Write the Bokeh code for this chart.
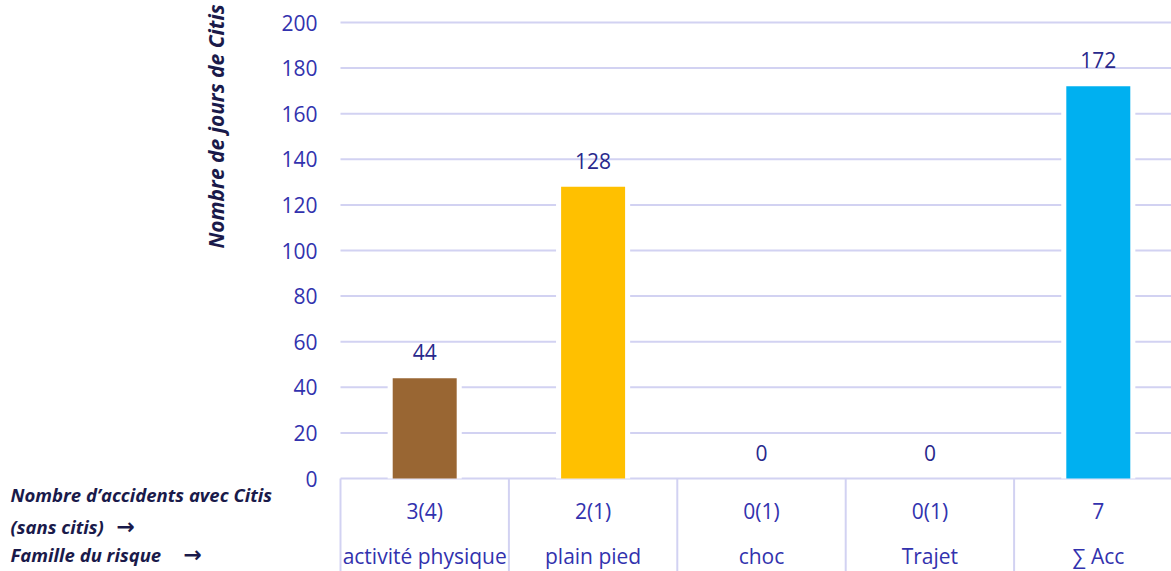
from bokeh.plotting import figure
from bokeh.models import Range1d, ColumnDataSource
from bokeh.core.properties import value
from bokeh.embed import file_html
from bokeh.resources import INLINE
import math

categories = ["activité physique", "plain pied", "choc", "Trajet", "∑ Acc"]
accidents = ["3(4)", "2(1)", "0(1)", "0(1)", "7"]
days = [44, 128, 0, 0, 172]
colors = ["#996633", "#FFC000", "#FFC000", "#FFC000", "#00B0F0"]
y_ticks = [0, 20, 40, 60, 80, 100, 120, 140, 160, 180, 200]
y_title = "Nombre de jours de Citis"
row_labels = ["Nombre d\u2019accidents avec Citis", "(sans citis)", "Famille du risque"]
row_arrows = ["\u2192", "\u2192"]

FONT = "Open Sans"
TICK_COLOR = "#3232AE"
VAL_COLOR = "#28288C"
DARK = "#1A1A4A"
GRID = "#D2D2F2"
FS = "21px"

W, H = 1171, 571
left = 340          # px of category origin
cat_w = 168.4       # px per category
px_per = 2.28       # px per unit
y0 = 478            # px of value 0

def dx(px):
    return (px - left) / cat_w

def dy(py):
    return (y0 - py) / px_per

xs = [i + 0.5 for i in range(len(categories))]
xend = dx(W)

p = figure(width=W, height=H, output_backend="svg", toolbar_location=None,
           x_range=Range1d(dx(0), xend), y_range=Range1d(dy(H), dy(0)),
           x_axis_location=None, y_axis_location=None,
           min_border_left=0, min_border_right=0, min_border_top=0, min_border_bottom=0)
p.outline_line_color = None
p.grid.visible = False

# gridlines
p.segment(x0=[0] * len(y_ticks), y0=y_ticks, x1=[xend] * len(y_ticks), y1=y_ticks,
          line_color=GRID, line_width=2)
# tick labels
p.text(x=[dx(317)] * len(y_ticks), y=y_ticks, text=[str(t) for t in y_ticks],
       text_align="right", text_baseline="middle", text_font=value(FONT),
       text_font_size=FS, text_color=TICK_COLOR)

src = ColumnDataSource(dict(x=xs, top=days, color=colors,
                            lab=[str(d) for d in days], acc=accidents, cat=categories))
# white halo behind bars (gap in gridlines)
p.vbar(x="x", top="top", width=0.44, bottom=0, source=src, fill_color="white", line_color=None)
p.vbar(x="x", top="top", width=0.38, bottom=0, source=src, fill_color="color", line_color=None)

p.text(x="x", y="top", text="lab", source=src, text_align="center", text_baseline="middle",
       y_offset=-26, text_font=value(FONT), text_font_size=FS, text_color=VAL_COLOR)

# table under the axis
bx = [i for i in range(len(categories))]
p.segment(x0=bx, y0=[0] * len(bx), x1=bx, y1=[dy(H)] * len(bx), line_color=GRID, line_width=2)
p.text(x="x", y=dy(510), text="acc", source=src, text_align="center", text_baseline="middle",
       text_font=value(FONT), text_font_size=FS, text_color=TICK_COLOR)
p.text(x="x", y=dy(555), text="cat", source=src, text_align="center", text_baseline="middle",
       text_font=value(FONT), text_font_size=FS, text_color=TICK_COLOR)

# y axis title
p.text(x=[dx(215)], y=[dy(126)], text=[y_title], angle=math.pi / 2,
       text_align="center", text_baseline="middle", text_font=value(FONT),
       text_font_style="bold italic", text_font_size="21px", text_color=DARK)

# row labels on the left
p.text(x=[dx(10)] * 3, y=[dy(494), dy(526), dy(554)], text=row_labels,
       text_align="left", text_baseline="middle", text_font=value(FONT),
       text_font_style="bold italic", text_font_size="18.5px", text_color=DARK)
p.text(x=[dx(116), dx(183)], y=[dy(526), dy(554)], text=row_arrows,
       text_align="left", text_baseline="middle", text_font=value("DejaVu Sans"),
       text_font_style="bold", text_font_size="22px", text_color=DARK)

open("out.html", "w").write(file_html(p, INLINE))
